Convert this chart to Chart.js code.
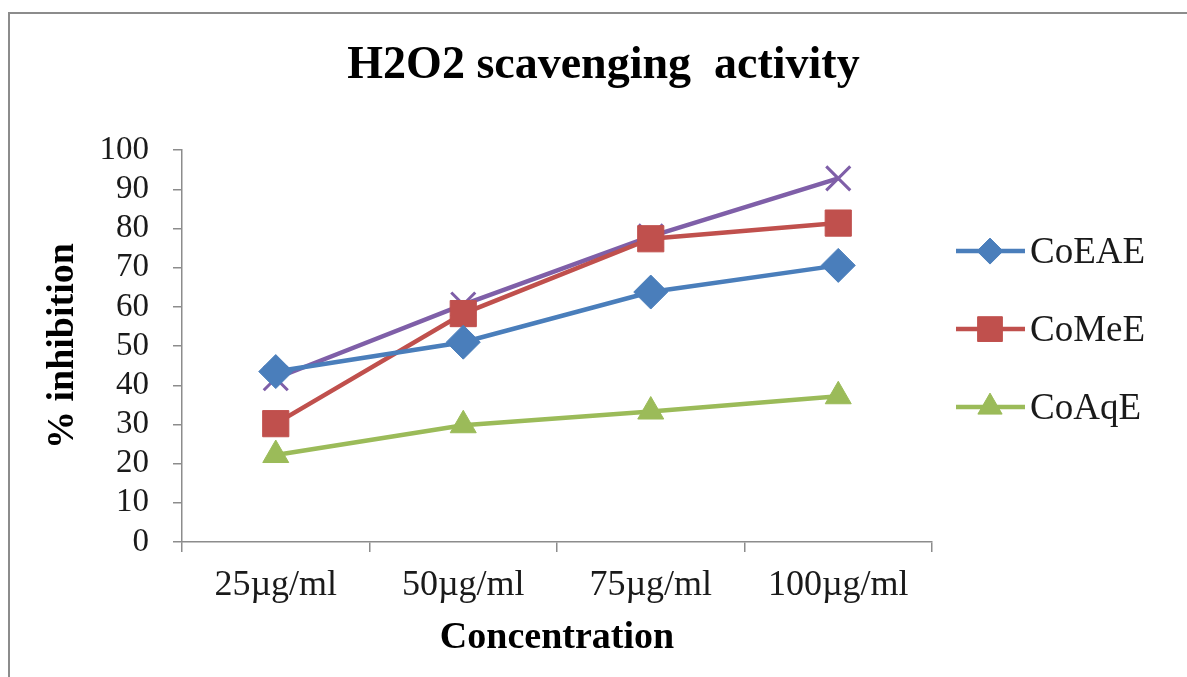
<!DOCTYPE html>
<html>
<head>
<meta charset="utf-8">
<script src="https://cdn.jsdelivr.net/npm/chart.js@4.4.1/dist/chart.umd.min.js"></script>
<style>
    html, body { margin: 0; padding: 0; background: #fff; }
    #frame {
        position: absolute; left: 8px; top: 12px; width: 1300px; height: 800px;
        border-top: 2px solid #8c8c8c; border-left: 2px solid #8c8c8c;
    }
    #wrap { position: absolute; left: 0; top: 0; width: 1187px; height: 677px; }
</style>
</head>
<body>
<div id="frame"></div>
<div id="wrap"><canvas id="chart" width="1187" height="677"></canvas></div>
<script>
// dados
const concentrations = ['25\u00b5g/ml', '50\u00b5g/ml', '75\u00b5g/ml', '100\u00b5g/ml'];
const coEAE = [43.5, 51, 63.8, 70.6];
const coMeE = [30.2, 58.3, 77.4, 81.4];
const coAqE = [22.2, 29.8, 33.3, 37.2];
const series4 = [41.8, 60.6, 78.0, 92.8];
const yTicks = { min: 0, max: 100, step: 10 };

const serif = "'Liberation Serif', 'Times New Roman', serif";

// legenda desenhada à mão (linha + marcador), como no Excel
const lineLegend = {
    id: 'lineLegend',
    afterDraw(chart) {
        const ctx = chart.ctx;
        const area = chart.chartArea;
        const items = chart.data.datasets.filter(ds => ds.inLegend);
        const x0 = area.right + 24;
        const midY = (area.top + area.bottom) / 2 - 17;
        items.forEach((ds, i) => {
            const y = midY + (i - (items.length - 1) / 2) * 78;
            ctx.save();
            ctx.strokeStyle = ds.borderColor;
            ctx.lineWidth = 4.5;
            ctx.beginPath();
            ctx.moveTo(x0, y);
            ctx.lineTo(x0 + 69, y);
            ctx.stroke();
            ctx.fillStyle = ds.borderColor;
            ctx.lineWidth = 1;
            Chart.helpers.drawPoint(ctx, {
                pointStyle: ds.pointStyle,
                radius: ds.legendRadius,
                borderWidth: 1
            }, x0 + 34, y);
            ctx.fillStyle = '#1a1a1a';
            ctx.font = '37px ' + serif;
            ctx.textBaseline = 'middle';
            ctx.fillText(ds.label, x0 + 74, y + 2);
            ctx.restore();
        });
    }
};

function makeSeries(label, data, color, style, radius, legendRadius, inLegend) {
    return {
        label: label,
        data: data,
        borderColor: color,
        backgroundColor: color,
        pointBackgroundColor: color,
        pointBorderColor: color,
        borderWidth: 4.5,
        pointStyle: style,
        pointRadius: radius,
        pointHoverRadius: radius,
        pointBorderWidth: style === 'crossRot' ? 3 : 1,
        tension: 0,
        legendRadius: legendRadius,
        inLegend: inLegend
    };
}

const ctx = document.getElementById('chart').getContext('2d');
new Chart(ctx, {
    type: 'line',
    data: {
        labels: concentrations,
        datasets: [
            makeSeries('CoEAE', coEAE, '#4a7ebb', 'rectRot', 17, 13, true),
            makeSeries('CoMeE', coMeE, '#c0504d', 'rect', 18.5, 17.5, true),
            makeSeries('CoAqE', coAqE, '#9bbb59', 'triangle', 15, 14, true),
            makeSeries('Series4', series4, '#7f5fa8', 'crossRot', 17, 0, false)
        ]
    },
    options: {
        responsive: false,
        animation: false,
        layout: { padding: { left: 20, right: 0, top: 0, bottom: 0 } },
        plugins: {
            legend: { display: false },
            tooltip: { enabled: false },
            title: {
                display: true,
                text: 'H2O2 scavenging  activity',
                color: '#000',
                font: { family: serif, size: 46, weight: 'bold' },
                padding: { top: 39, bottom: 56 }
            }
        },
        scales: {
            x: {
                offset: true,
                grid: { display: true, offset: true, drawOnChartArea: false, tickLength: 10, color: '#8c8c8c', lineWidth: 1.5 },
                border: { color: '#8c8c8c', width: 1.5 },
                ticks: { color: '#1a1a1a', font: { family: serif, size: 36 }, padding: 12, maxRotation: 0 },
                title: {
                    display: true, text: 'Concentration', color: '#000',
                    font: { family: serif, size: 38, weight: 'bold' }, padding: { top: 0, bottom: 16 }
                },
                afterFit(scale) { scale.height = 135; }
            },
            y: {
                min: yTicks.min,
                max: yTicks.max,
                grid: { display: true, drawOnChartArea: false, tickLength: 9, color: '#8c8c8c', lineWidth: 1.5 },
                border: { color: '#8c8c8c', width: 1.5 },
                ticks: { stepSize: yTicks.step, autoSkip: false, color: '#1a1a1a', font: { family: serif, size: 33 }, padding: 24 },
                title: {
                    display: true, text: '% inhibition', color: '#000',
                    font: { family: serif, size: 38, weight: 'bold' }, padding: { top: 20, bottom: 0 }
                },
                afterFit(scale) { scale.width = 162; }
            },
            // eixo vazio só para reservar espaço da legenda à direita
            legendSpace: {
                type: 'linear',
                position: 'right',
                display: true,
                grid: { display: false },
                border: { display: false },
                ticks: { display: false },
                afterFit(scale) { scale.width = 255; }
            }
        }
    },
    plugins: [lineLegend]
});
</script>
</body>
</html>
